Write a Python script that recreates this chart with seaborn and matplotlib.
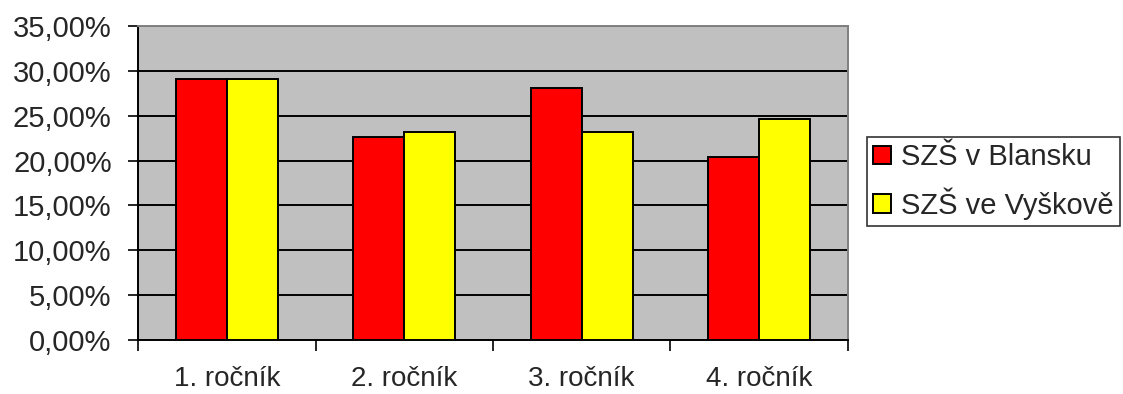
import matplotlib
matplotlib.use("Agg")
import matplotlib.pyplot as plt
import seaborn as sns
import pandas as pd
from matplotlib.ticker import FuncFormatter, FixedLocator

categories = ["1. ročník", "2. ročník", "3. ročník", "4. ročník"]
series_names = ["SZŠ v Blansku", "SZŠ ve Vyškově"]
blansko = [29.1, 22.6, 28.1, 20.4]
vyskov = [29.1, 23.2, 23.2, 24.6]
colors = ["#FF0000", "#FFFF00"]

df = pd.DataFrame({
    "rocnik": categories * 2,
    "skola": [series_names[0]] * 4 + [series_names[1]] * 4,
    "podil": blansko + vyskov,
})

sns.set_style("white")
plt.rcParams["font.family"] = ["Liberation Sans", "DejaVu Sans"]

fig = plt.figure(figsize=(11.23, 3.94), dpi=100)
ax = fig.add_axes([0.123, 0.137, 0.632, 0.797])
ax.set_facecolor("#C0C0C0")

sns.barplot(data=df, x="rocnik", y="podil", hue="skola", order=categories,
            hue_order=series_names, palette=colors, width=0.575,
            edgecolor="black", linewidth=1.4, saturation=1, ax=ax, zorder=3)

ax.set_ylim(0, 35)
ax.set_yticks([0, 5, 10, 15, 20, 25, 30, 35])
ax.yaxis.set_major_formatter(FuncFormatter(lambda v, p: f"{v:.2f}%".replace(".", ",")))
ax.yaxis.grid(True, color="black", linewidth=1.4, zorder=1)
ax.set_axisbelow(True)

ax.set_xlim(-0.5, 3.5)
ax.xaxis.set_major_locator(FixedLocator([-0.5, 0.5, 1.5, 2.5, 3.5]))
ax.xaxis.set_minor_locator(FixedLocator([0, 1, 2, 3]))
ax.set_xticklabels([], minor=False)
ax.set_xticklabels(categories, minor=True)
ax.tick_params(axis="x", which="major", length=8, width=1.2, color="black", direction="out", bottom=True)
ax.tick_params(axis="x", which="minor", length=0, labelsize=20, pad=19)
ax.tick_params(axis="y", length=7, width=1.2, color="black", direction="out", left=True, labelsize=21, pad=12)

ax.set_xlabel("")
ax.set_ylabel("")

for s in ["left", "bottom"]:
    ax.spines[s].set_color("black")
    ax.spines[s].set_linewidth(1.4)
for s in ["top", "right"]:
    ax.spines[s].set_color("#808080")
    ax.spines[s].set_linewidth(1.4)

handles, labels = ax.get_legend_handles_labels()
ax.legend_.remove()
leg = fig.legend(handles, labels, loc="upper left", bbox_to_anchor=(0.772, 0.653),
                 frameon=True, fancybox=False, edgecolor="black", fontsize=21,
                 handlelength=0.6, handleheight=0.6, handletextpad=0.35,
                 borderpad=0.22, labelspacing=0.55, borderaxespad=0)
leg.get_frame().set_linewidth(1.2)

fig.savefig("out.png", dpi=100)
